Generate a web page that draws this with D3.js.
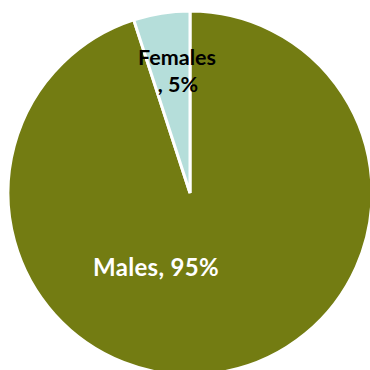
<!DOCTYPE html>
<html>
<head>
<meta charset="utf-8">
<script src="https://cdn.jsdelivr.net/npm/d3@7"></script>
<style>
  html, body { margin: 0; padding: 0; background: #ffffff; overflow: hidden; }
  svg { display: block; }
</style>
</head>
<body>
<svg id="chart" width="370" height="370"></svg>
<script>
// Gender split shown as a pie
const categories = ["Males", "Females"];
const values = [95, 5];
const labels = ["Males, 95%", ["Females", ", 5%"]];
const colors = ["#737c12", "#b5deda"];

const width = 370, height = 370;
const cx = 190, cy = 193, radius = 182;

const svg = d3.select("#chart");
const g = svg.append("g").attr("transform", `translate(${cx},${cy})`);

const pie = d3.pie().sort(null).value(d => d.value);
const arcs = pie(categories.map((c, i) => ({ name: c, value: values[i], i })));
const arc = d3.arc().innerRadius(0).outerRadius(radius);

g.selectAll("path.slice")
  .data(arcs)
  .join("path")
  .attr("class", "slice")
  .attr("d", arc)
  .attr("fill", d => colors[d.data.i])
  .attr("stroke", "#ffffff")
  .attr("stroke-width", 3)
  .attr("stroke-linejoin", "miter");

// Males label, inside the large slice
g.append("text")
  .attr("x", 156 - cx)
  .attr("y", 276 - cy)
  .attr("text-anchor", "middle")
  .attr("font-family", "Lato, 'Open Sans', sans-serif")
  .attr("font-weight", "bold")
  .attr("font-size", 24)
  .attr("letter-spacing", 0.3)
  .attr("fill", "#ffffff")
  .text(labels[0]);

// Females label, two lines near the thin slice
const ft = g.append("text")
  .attr("text-anchor", "middle")
  .attr("font-family", "Lato, 'Open Sans', sans-serif")
  .attr("font-weight", "bold")
  .attr("font-size", 21.5)
  .attr("fill", "#000000");
ft.append("tspan").attr("x", 177 - cx).attr("y", 65 - cy).text(labels[1][0]);
ft.append("tspan").attr("x", 178 - cx).attr("y", 92 - cy).text(labels[1][1]);
</script>
</body>
</html>
